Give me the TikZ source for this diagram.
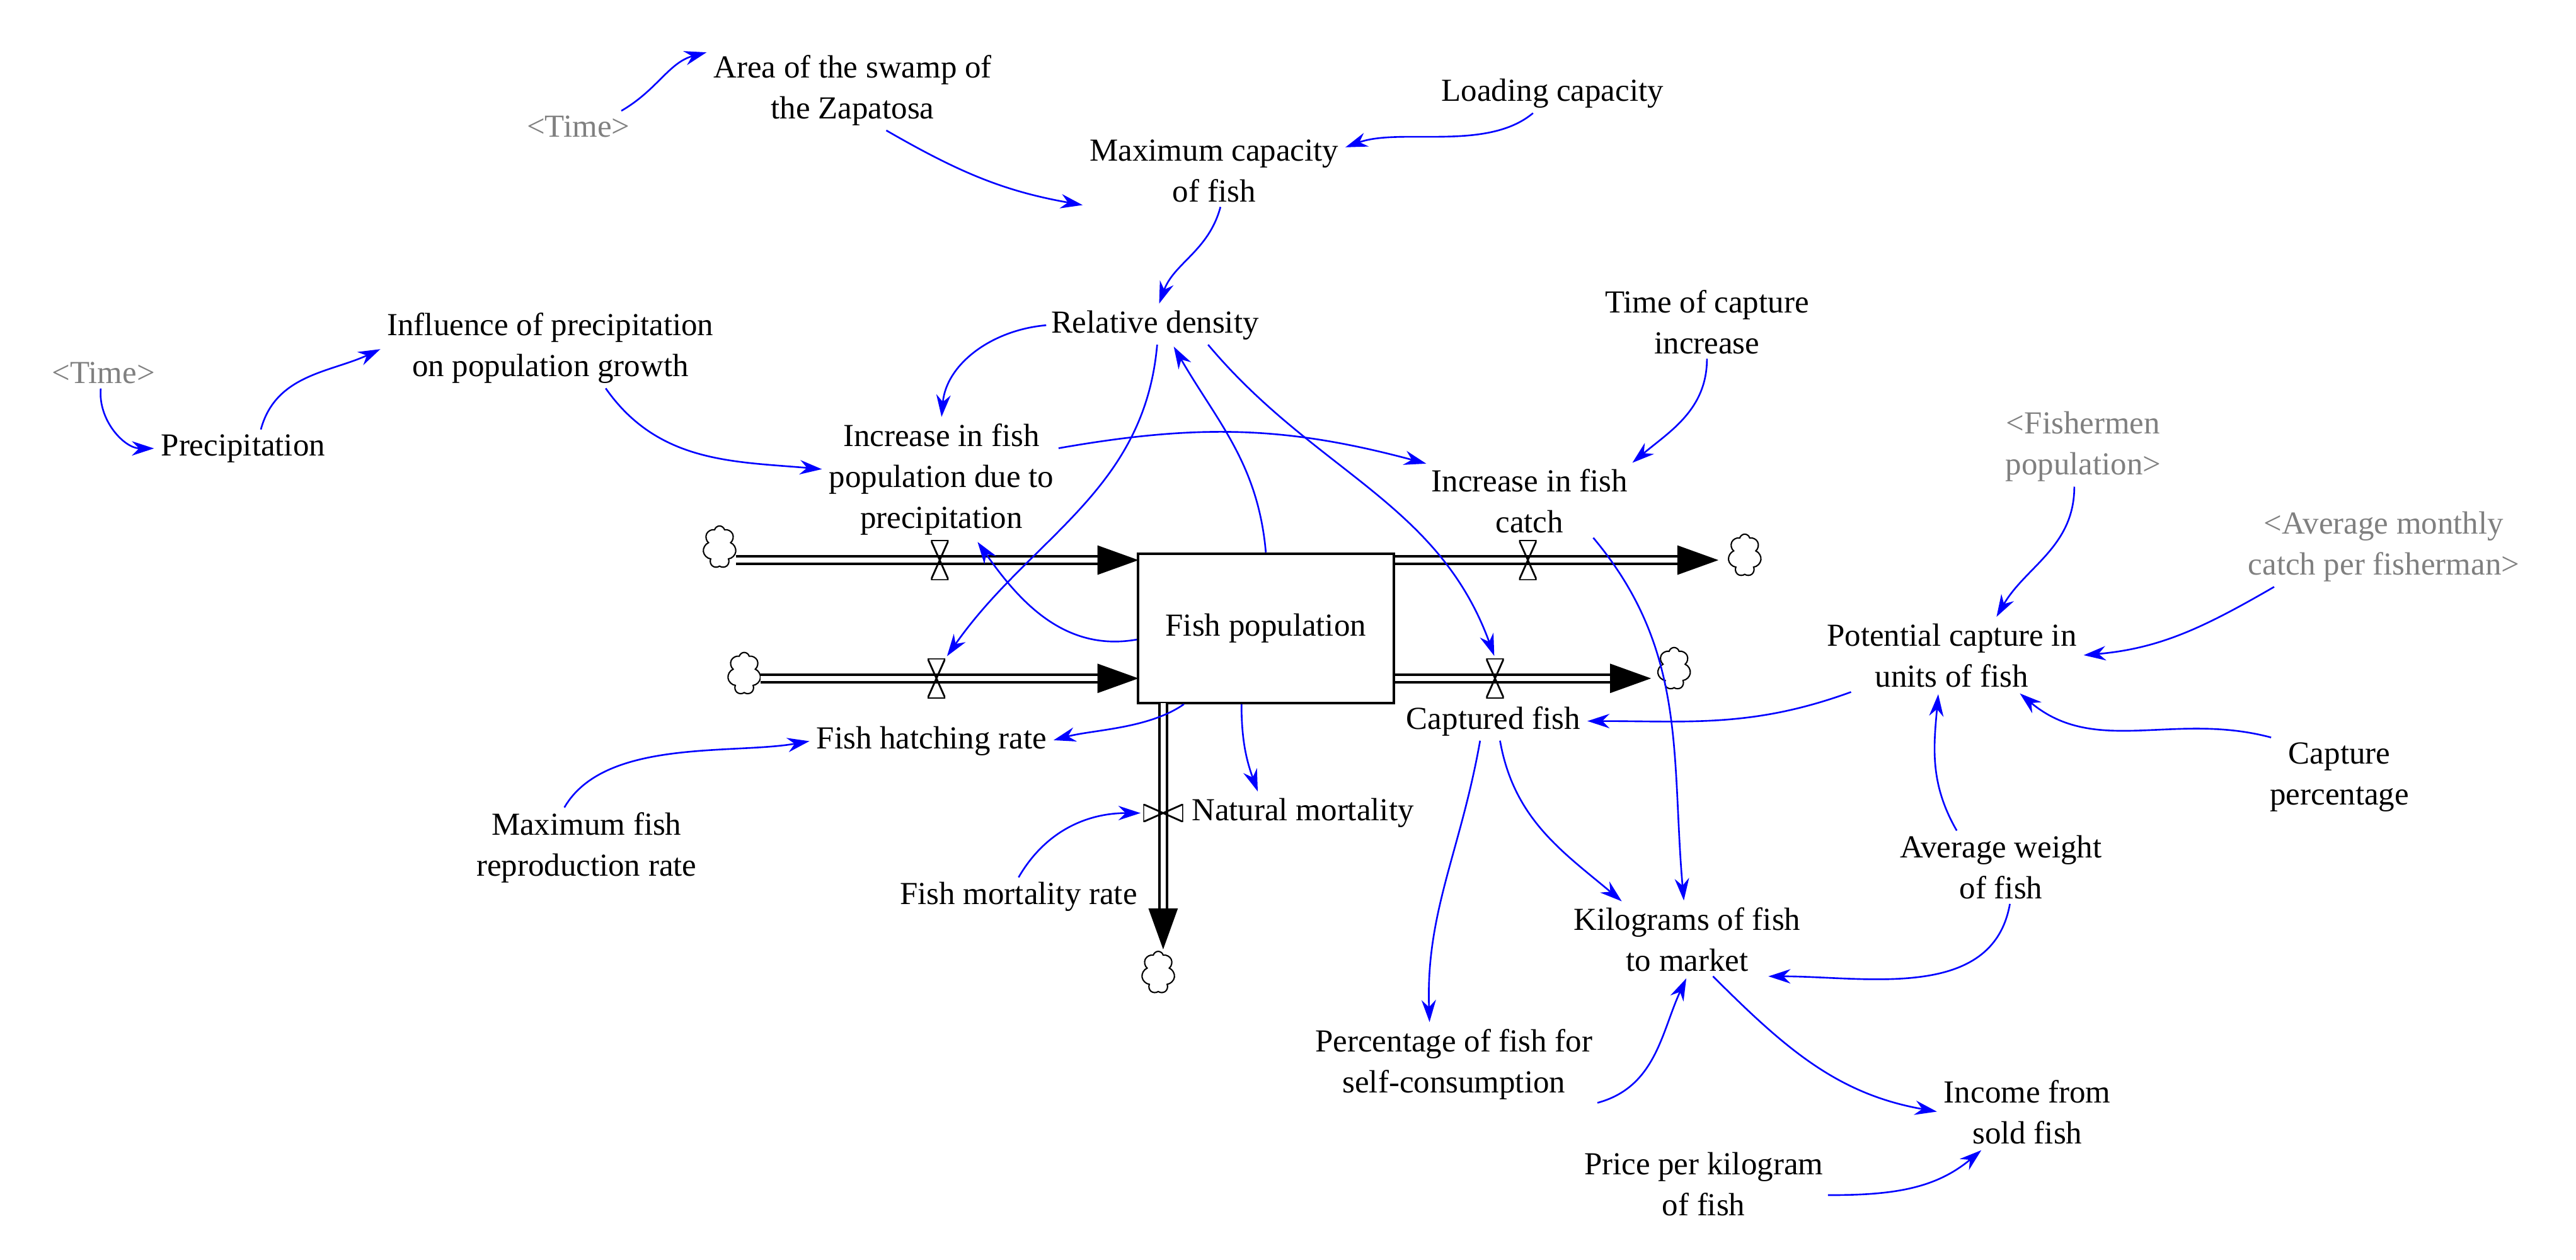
\documentclass[tikz,border=0pt]{standalone}
\usepackage{fontspec}
\setmainfont{Liberation Serif}
\usetikzlibrary{arrows.meta,shapes.symbols,calc}
\begin{document}
\begin{tikzpicture}[x=0.02607cm,y=-0.02607cm,
 txt/.style={align=center,font=\fontsize{14.5}{18.5}\selectfont,inner sep=2pt},
 gtxt/.style={txt,text=gray},
 link/.style={draw={rgb,255:red,0;green,0;blue,255},line width=0.75pt,-{Stealth[length=10pt,width=6.5pt]},shorten >=1pt},
 pipe/.style={draw=black,double=white,double distance=2.4pt,line width=1.1pt},
 valve/.style={minimum width=8pt,minimum height=18pt,inner sep=0pt,path picture={\draw[line width=0.8pt] (path picture bounding box.north west)--(path picture bounding box.north east)--(path picture bounding box.south west)--(path picture bounding box.south east)--cycle;}},
 hvalve/.style={minimum width=18pt,minimum height=8pt,inner sep=0pt,path picture={\draw[line width=0.8pt] (path picture bounding box.north west)--(path picture bounding box.south west)--(path picture bounding box.north east)--(path picture bounding box.south east)--cycle;}},
 cld/.style={cloud,cloud puffs=7,draw,line width=0.6pt,minimum width=15pt,minimum height=19pt,inner sep=0pt,aspect=0.75}]
\useasboundingbox (0,0) rectangle (1568,767);
% stock
\node[draw,line width=1.1pt,minimum width=115.5pt,minimum height=67.5pt,txt] (fp) at (770.5,382.5) {Fish population};
% clouds
\node[cld] (c1) at (438,333) {};
\node[cld] (c2) at (453,410) {};
\node[cld] (c3) at (1062,338) {};
\node[cld] (c4) at (1019,407) {};
\node[cld] (c5) at (705,592) {};
% pipes
\draw[pipe] (c1.east|-0,341) -- (668,341);
\fill (693,341) -- (668,332) -- (668,350) -- cycle;
\draw[pipe] (c2.east|-0,413) -- (668,413);
\fill (693,413) -- (668,404) -- (668,422) -- cycle;
\draw[pipe] (849,341) -- (1021,341);
\fill (1046,341) -- (1021,332) -- (1021,350) -- cycle;
\draw[pipe] (849,413) -- (980,413);
\fill (1005,413) -- (980,404) -- (980,422) -- cycle;
\draw[pipe] (708,428) -- (708,553);
\fill (708,578) -- (699,553) -- (717,553) -- cycle;
% valves
\node[valve] (vp) at (572,341) {};
\node[valve] (vh) at (570,413) {};
\node[valve] (vi) at (930,341) {};
\node[valve] (vc) at (910,413) {};
\node[hvalve] (vm) at (708,495) {};
% texts
\node[gtxt] (t1) at (352,77) {<Time>};
\node[txt] (area) at (519,55) {Area of the swamp of\\the Zapatosa};
\node[txt] (load) at (945,57) {Loading capacity};
\node[txt] (maxcap) at (739,104) {Maximum capacity\\of fish};
\node[gtxt] (t2) at (63,227) {<Time>};
\node[txt] (prec) at (148,273) {Precipitation};
\node[txt] (infl) at (335,212) {Influence of precipitation\\on population growth};
\node[txt] (rd) at (703,198) {Relative density};
\node[txt] (tci) at (1039,196) {Time of capture\\increase};
\node[txt] (incp) at (573,292) {Increase in fish\\population due to\\precipitation};
\node[txt] (ifc) at (931,305) {Increase in fish\\catch};
\node[gtxt] (fpop) at (1268,272) {<Fishermen\\population>};
\node[gtxt] (avg) at (1451,333) {<Average monthly\\catch per fisherman>};
\node[txt] (pc) at (1188,399) {Potential capture in\\units of fish};
\node[txt] (cf) at (909,439) {Captured fish};
\node[txt] (fhr) at (567,451) {Fish hatching rate};
\node[txt] (nm) at (793,495) {Natural mortality};
\node[txt] (cp) at (1424,473) {Capture\\percentage};
\node[txt] (aw) at (1218,528) {Average weight\\of fish};
\node[txt] (mfr) at (357,516) {Maximum fish\\reproduction rate};
\node[txt] (fmr) at (620,546) {Fish mortality rate};
\node[txt] (kg) at (1027,572) {Kilograms of fish\\to market};
\node[txt] (pct) at (885,648) {Percentage of fish for\\self-consumption};
\node[txt] (inc) at (1234,677) {Income from\\sold fish};
\node[txt] (price) at (1037,721) {Price per kilogram\\of fish};
% links
\draw[link] (t1.20) to[out=30,in=195] (area.165);
\draw[link] (area.-50) to[out=-30,in=170] (maxcap.-165);
\draw[link] (load.-135) to[out=-140,in=20,looseness=0.8] (maxcap.10);
\draw[link] (maxcap.-80) to[out=-105,in=70] (rd.80);
\draw[link] (rd.west) to[out=185,in=85] (incp.north);
\draw[link] ([xshift=1pt]rd.south) to[out=-95,in=55] (vh.north east);
\draw[link] ([xshift=24pt]rd.south) to[out=-50,in=110] (vc.north);
\draw[link] (fp.north) to[out=95,in=-60] ([xshift=8pt]rd.south);
\draw[link] ([xshift=25pt]infl.south) to[out=-55,in=175] (incp.175);
\draw[link] (t2.-100) to[out=-95,in=180] (prec.west);
\draw[link] ([xshift=8pt]prec.north) to[out=75,in=205] (infl.west);
\draw[link] (incp.15) to[out=10,in=165] (ifc.160);
\draw[link] (tci.south) to[out=-90,in=40] (ifc.20);
\draw[link] (fp.-175) to[out=190,in=-55] (incp.-60);
\draw[link] (ifc.-30) to[out=-50,in=95] (kg.95);
\draw[link] ([xshift=-37pt]fp.south) to[out=-145,in=15,looseness=0.8] (fhr.east);
\draw[link] ([xshift=-11pt]fp.south) to[out=-90,in=110] ([xshift=-20pt]nm.north);
\draw[link] ([xshift=-10pt]mfr.north) to[out=60,in=190,looseness=0.8] (fhr.west);
\draw[link] (fmr.north) to[out=60,in=180] (vm.west);
\draw[link] (pc.-160) to[out=-160,in=0] (cf.east);
\draw[link] ([xshift=-4pt]fpop.south) to[out=-90,in=60] (pc.40);
\draw[link] (avg.-160) to[out=-150,in=5] (pc.east);
\draw[link] (cp.150) to[out=165,in=-40] ([xshift=30pt]pc.south);
\draw[link] ([xshift=-20pt]aw.north) to[out=120,in=-95] ([xshift=-6pt]pc.south);
\draw[link] ([xshift=3pt]cf.south) to[out=-80,in=140] (kg.150);
\draw[link] ([xshift=-6pt]cf.south) to[out=-100,in=92] ([xshift=-11pt]pct.north);
\draw[link] (pct.-15) to[out=15,in=-115] (kg.south);
\draw[link] ([xshift=4pt]aw.south) to[out=-100,in=0] (kg.-25);
\draw[link] (kg.-55) to[out=-45,in=170] (inc.west);
\draw[link] (price.-5) to[out=0,in=-140] ([xshift=-20pt]inc.south);
\end{tikzpicture}
\end{document}
